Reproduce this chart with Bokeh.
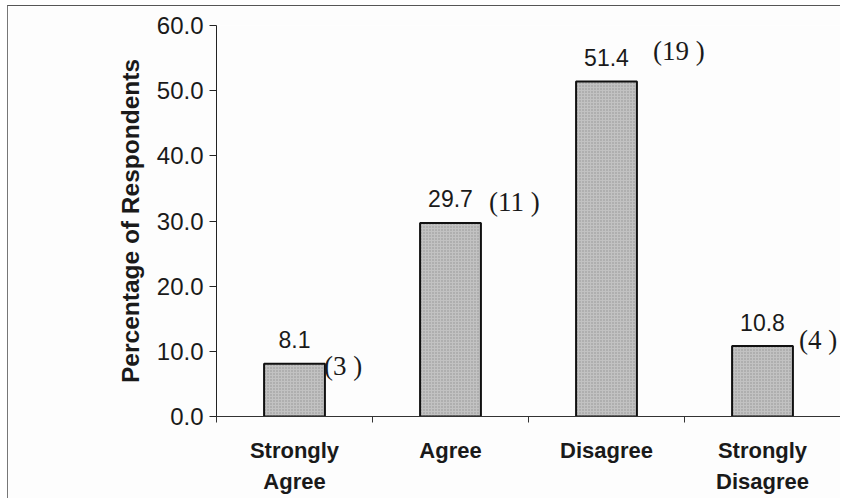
from bokeh.plotting import figure
from bokeh.models import ColumnDataSource, Range1d, FixedTicker, LinearAxis
from bokeh.core.properties import value
from bokeh.embed import file_html
from bokeh.resources import INLINE

# ---- data ----
categories = ["Strongly\nAgree", "Agree", "Disagree", "Strongly\nDisagree"]
percentages = [8.1, 29.7, 51.4, 10.8]
counts = [3, 11, 19, 4]
value_texts = ["8.1", "29.7", "51.4", "10.8"]
count_texts = ["(3 )", "(11 )", "(19 )", "(4 )"]
y_ticks = [0, 10, 20, 30, 40, 50, 60]
y_tick_labels = ["0.0", "10.0", "20.0", "30.0", "40.0", "50.0", "60.0"]

# ---- styling (label offsets in screen px) ----
count_dx = [-1, 8, 16, 6]
count_dy = [2, -21, -31, -6]
BAR_W = 0.39

xs = [i + 0.5 for i in range(len(categories))]
src = ColumnDataSource(dict(
    x=xs, top=percentages, vt=value_texts, ct=count_texts,
    xr=[x + BAR_W / 2 for x in xs], cdx=count_dx, cdy=count_dy,
))

W, H = 833, 493
LEFT, TOP, BOTTOM, RIGHT = 208, 19, 83, 0
frame_w = W - LEFT - RIGHT

p = figure(width=W, height=H, output_backend="svg", toolbar_location=None,
           x_range=Range1d(0, frame_w / 156.0), y_range=Range1d(0, 60),
           min_border_left=LEFT, min_border_top=TOP,
           min_border_bottom=BOTTOM, min_border_right=RIGHT,
           x_axis_type=None, y_axis_type=None)
p.margin = (5, 0, 0, 7)
p.background_fill_color = "#fdfdfd"
p.border_fill_color = "#fdfdfd"
p.outline_line_color = None
p.xgrid.visible = False
p.ygrid.visible = False
p.styles = {"border-top": "1px solid #555", "border-left": "1px solid #777"}

# bars
p.vbar(x="x", top="top", width=BAR_W, bottom=0, source=src,
       fill_color="#c2c2c2", line_color="#111111", line_width=2,
       hatch_pattern="dot", hatch_color="#6e6e6e", hatch_scale=3,
       hatch_weight=1, hatch_alpha=0.55)

# value labels
p.text(x="x", y="top", text="vt", source=src, text_align="center",
       text_baseline="alphabetic", y_offset=-24,
       text_font=value("Liberation Sans"), text_font_size="23px",
       text_color="#1a1a1a")

# count labels
p.text(x="xr", y="top", text="ct", source=src, text_align="left",
       text_baseline="middle", x_offset="cdx", y_offset="cdy",
       text_font=value("Liberation Serif"), text_font_size="27px",
       text_color="#1a1a1a")

# y axis
yax = LinearAxis(ticker=FixedTicker(ticks=y_ticks))
yax.major_label_overrides = {t: l for t, l in zip(y_ticks, y_tick_labels)}
yax.axis_label = "Percentage of Respondents"
yax.axis_label_text_font = "Liberation Sans"
yax.axis_label_text_font_style = "bold"
yax.axis_label_text_font_size = "24.5px"
yax.axis_label_text_color = "#1a1a1a"
yax.axis_label_standoff = 10
yax.major_label_text_font = "Liberation Sans"
yax.major_label_text_font_size = "24px"
yax.major_label_text_color = "#1a1a1a"
yax.major_label_standoff = 6
yax.major_tick_out = 7
yax.major_tick_in = 0
yax.minor_tick_out = 0
yax.minor_tick_in = 0
yax.axis_line_color = "#222222"
yax.major_tick_line_color = "#222222"
p.add_layout(yax, "left")

# x axis: labels at category centres, ticks between categories
xax = LinearAxis(ticker=FixedTicker(ticks=xs, minor_ticks=list(range(len(categories) + 1))))
xax.major_label_overrides = {x: c for x, c in zip(xs, categories)}
xax.major_label_text_font = "Liberation Sans"
xax.major_label_text_font_style = "bold"
xax.major_label_text_font_size = "22px"
xax.major_label_text_color = "#1a1a1a"
xax.major_label_text_line_height = 1.25
xax.major_label_standoff = 15
xax.major_tick_out = 0
xax.major_tick_in = 0
xax.minor_tick_out = 6
xax.minor_tick_in = 0
xax.axis_line_color = "#333333"
xax.minor_tick_line_color = "#333333"
p.add_layout(xax, "below")

open("out.html", "w").write(file_html(p, INLINE))
